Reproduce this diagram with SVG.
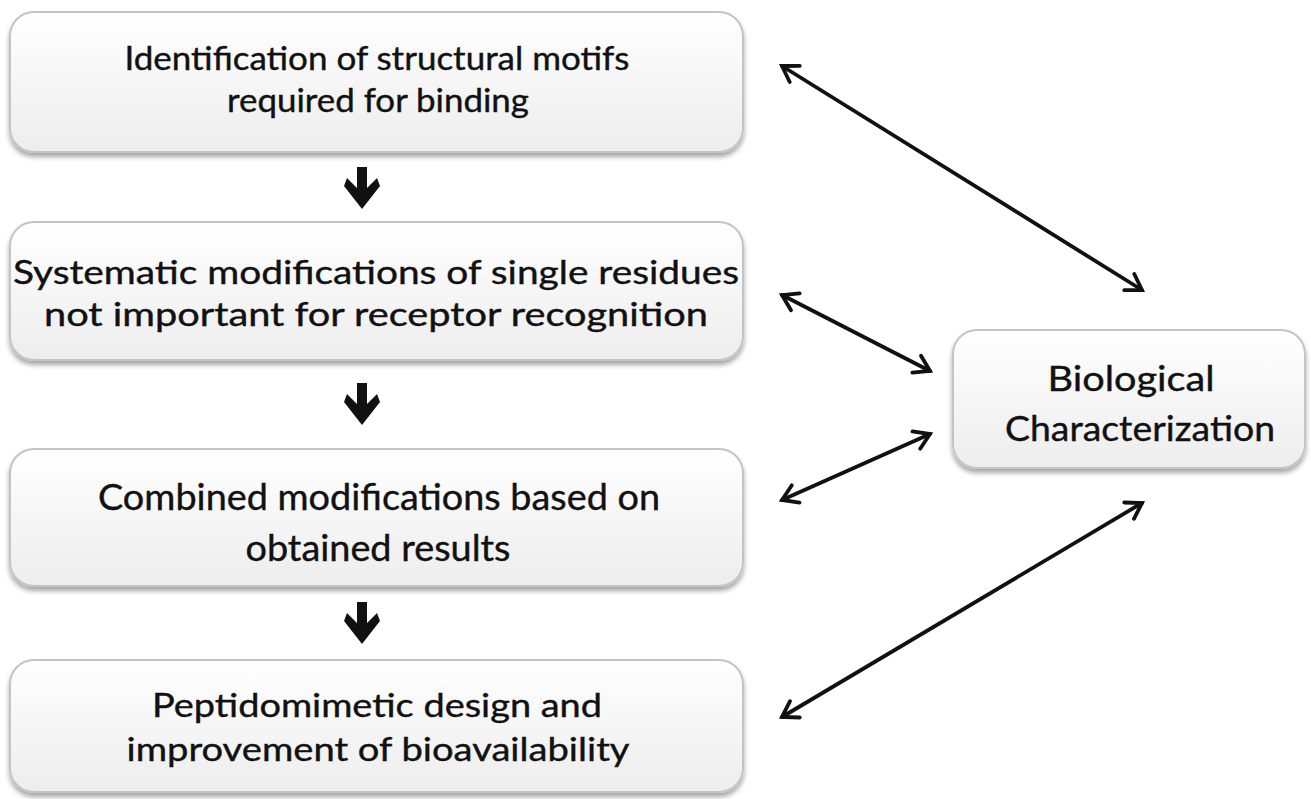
<svg xmlns="http://www.w3.org/2000/svg" width="1311" height="799" viewBox="0 0 1311 799">
<style>
.box{fill:url(#g);stroke:#c4c4c4;stroke-width:2;filter:url(#sh)}
.t{font-family:Lato,"Open Sans",sans-serif;fill:#111;stroke:#111;stroke-width:0.4;text-anchor:middle}
.c{fill:none;stroke:#111;stroke-width:3.8;stroke-linecap:round;marker-start:url(#ah);marker-end:url(#ah)}
.d{fill:#111}
</style>
<defs>
<linearGradient id="g" x1="0" y1="0" x2="0" y2="1">
<stop offset="0" stop-color="#ffffff"/>
<stop offset="1" stop-color="#ededed"/>
</linearGradient>
<filter id="sh" x="-5%" y="-10%" width="110%" height="130%">
<feGaussianBlur in="SourceAlpha" stdDeviation="2.5"/>
<feOffset dx="0" dy="4" result="b"/>
<feComponentTransfer><feFuncA type="linear" slope="0.35"/></feComponentTransfer>
<feMerge><feMergeNode/><feMergeNode in="SourceGraphic"/></feMerge>
</filter>
<marker id="ah" viewBox="0 0 24 24" refX="20" refY="12" markerWidth="24" markerHeight="24" markerUnits="userSpaceOnUse" orient="auto-start-reverse">
<path d="M5,2.5 L20,12 L5,21.5" fill="none" stroke="#111" stroke-width="3.8" stroke-linecap="round" stroke-linejoin="miter"/>
</marker>
</defs>
<rect width="1311" height="799" fill="#fff"/>
<g id="n1">
<rect class="box" x="10" y="12" width="733" height="140" rx="24"/>
<text class="t" x="377" y="70" font-size="33" textLength="505" lengthAdjust="spacingAndGlyphs">Identification of structural motifs</text>
<text class="t" x="378" y="112" font-size="33" textLength="302" lengthAdjust="spacingAndGlyphs">required for binding</text>
</g>
<g id="n2">
<rect class="box" x="10" y="222" width="733" height="138" rx="24"/>
<text class="t" x="376" y="284" font-size="33" textLength="726" lengthAdjust="spacingAndGlyphs">Systematic modifications of single residues</text>
<text class="t" x="376" y="326" font-size="33" textLength="664" lengthAdjust="spacingAndGlyphs">not important for receptor recognition</text>
</g>
<g id="n3">
<rect class="box" x="10" y="449" width="733" height="137" rx="24"/>
<text class="t" x="379" y="510" font-size="36" textLength="562" lengthAdjust="spacingAndGlyphs">Combined modifications based on</text>
<text class="t" x="378" y="561" font-size="36" textLength="265" lengthAdjust="spacingAndGlyphs">obtained results</text>
</g>
<g id="n4">
<rect class="box" x="10" y="660" width="733" height="132" rx="24"/>
<text class="t" x="377" y="717" font-size="33" textLength="450" lengthAdjust="spacingAndGlyphs">Peptidomimetic design and</text>
<text class="t" x="378" y="761" font-size="33" textLength="503" lengthAdjust="spacingAndGlyphs">improvement of bioavailability</text>
</g>
<g id="n5">
<rect class="box" x="953" y="330" width="352" height="138" rx="24"/>
<text class="t" x="1131" y="391" font-size="35" textLength="167" lengthAdjust="spacingAndGlyphs">Biological</text>
<text class="t" x="1140" y="441" font-size="35" textLength="270" lengthAdjust="spacingAndGlyphs">Characterization</text>
</g>
<g id="connectors">
<path class="d" d="M357,167 H367 V188 L377,178 L380,186 L362,209 L344,186 L347,178 L357,188 Z"/>
<path class="d" d="M357,383 H367 V404 L377,394 L380,402 L362,425 L344,402 L347,394 L357,404 Z"/>
<path class="d" d="M357,602 H367 V623 L377,613 L380,621 L362,644 L344,621 L347,613 L357,623 Z"/>
<line class="c" x1="782" y1="66" x2="1142" y2="290"/>
<line class="c" x1="782" y1="295" x2="930" y2="371"/>
<line class="c" x1="930" y1="434" x2="782" y2="500"/>
<line class="c" x1="1142" y1="503" x2="782" y2="717"/>
</g>
</svg>
